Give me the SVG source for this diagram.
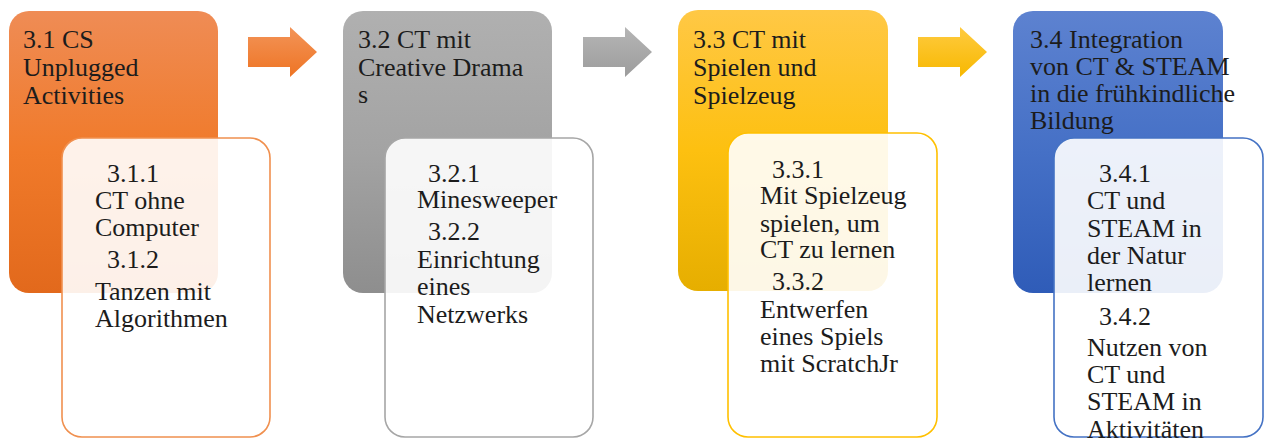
<svg xmlns="http://www.w3.org/2000/svg" width="1266" height="441" viewBox="0 0 1266 441">
<defs>
<linearGradient id="gO" x1="0" y1="0" x2="0" y2="1"><stop offset="0" stop-color="#EF8C55"/><stop offset="0.5" stop-color="#F07A2A"/><stop offset="1" stop-color="#E2691C"/></linearGradient>
<linearGradient id="gG" x1="0" y1="0" x2="0" y2="1"><stop offset="0" stop-color="#B0B0B0"/><stop offset="0.5" stop-color="#A3A3A3"/><stop offset="1" stop-color="#8E8E8E"/></linearGradient>
<linearGradient id="gY" x1="0" y1="0" x2="0" y2="1"><stop offset="0" stop-color="#FFC845"/><stop offset="0.5" stop-color="#FDC010"/><stop offset="1" stop-color="#E6AE00"/></linearGradient>
<linearGradient id="gB" x1="0" y1="0" x2="0" y2="1"><stop offset="0" stop-color="#5D82D0"/><stop offset="0.5" stop-color="#4570C6"/><stop offset="1" stop-color="#2F5CB8"/></linearGradient>
<linearGradient id="aO" x1="0" y1="0" x2="0" y2="1"><stop offset="0" stop-color="#F39458"/><stop offset="1" stop-color="#EE7424"/></linearGradient>
<linearGradient id="aG" x1="0" y1="0" x2="0" y2="1"><stop offset="0" stop-color="#B5B5B5"/><stop offset="1" stop-color="#9C9C9C"/></linearGradient>
<linearGradient id="aY" x1="0" y1="0" x2="0" y2="1"><stop offset="0" stop-color="#FFCB40"/><stop offset="1" stop-color="#F7B800"/></linearGradient>
<path id="arrow" d="M0 10 H42 V0 L69 25 L42 50 V40 H0 Z"/>
</defs>
<style>
text{font-family:"Liberation Serif","Times New Roman",serif;font-size:26px;fill:#1c1c1c}
.inner{fill:#ffffff;fill-opacity:0.9;stroke-width:1.6}
</style>
<rect width="1266" height="441" fill="#ffffff"/>
<g id="connectors">
<use href="#arrow" x="248" y="27" fill="url(#aO)"/>
<use href="#arrow" x="583" y="27" fill="url(#aG)"/>
<use href="#arrow" x="918" y="27" fill="url(#aY)"/>
</g>
<g id="n31">
<rect x="9" y="11" width="209" height="282" rx="20" fill="url(#gO)"/>
<text x="23"><tspan x="23" y="48">3.1 CS</tspan><tspan x="23" y="76">Unplugged</tspan><tspan x="23" y="104">Activities</tspan></text>
</g>
<g id="n31s">
<rect class="inner" x="62" y="138" width="208" height="299" rx="20" stroke="#F0904F"/>
<text><tspan x="107" y="182">3.1.1</tspan><tspan x="95" y="209">CT ohne</tspan><tspan x="95" y="236">Computer</tspan><tspan x="107" y="268">3.1.2</tspan><tspan x="95" y="300">Tanzen mit</tspan><tspan x="95" y="327">Algorithmen</tspan></text>
</g>
<g id="n32">
<rect x="343" y="11" width="209" height="282" rx="20" fill="url(#gG)"/>
<text><tspan x="358" y="48">3.2 CT mit</tspan><tspan x="358" y="76">Creative Drama</tspan><tspan x="358" y="103">s</tspan></text>
</g>
<g id="n32s">
<rect class="inner" x="385" y="138" width="208" height="299" rx="20" stroke="#A6A6A6"/>
<text><tspan x="428" y="182">3.2.1</tspan><tspan x="417" y="208">Minesweeper</tspan><tspan x="428" y="240">3.2.2</tspan><tspan x="417" y="268">Einrichtung</tspan><tspan x="417" y="295">eines</tspan><tspan x="417" y="323">Netzwerks</tspan></text>
</g>
<g id="n33">
<rect x="678" y="10" width="210" height="281" rx="20" fill="url(#gY)"/>
<text><tspan x="693" y="48">3.3 CT mit</tspan><tspan x="693" y="76">Spielen und</tspan><tspan x="693" y="104">Spielzeug</tspan></text>
</g>
<g id="n33s">
<rect class="inner" x="728" y="133" width="209" height="304" rx="20" stroke="#FFC000"/>
<text><tspan x="772" y="178">3.3.1</tspan><tspan x="760" y="204">Mit Spielzeug</tspan><tspan x="760" y="232">spielen, um</tspan><tspan x="760" y="258">CT zu lernen</tspan><tspan x="772" y="290">3.3.2</tspan><tspan x="760" y="318">Entwerfen</tspan><tspan x="760" y="345">eines Spiels</tspan><tspan x="760" y="372">mit ScratchJr</tspan></text>
</g>
<g id="n34">
<rect x="1013" y="11" width="210" height="282" rx="20" fill="url(#gB)"/>
<text><tspan x="1030" y="48">3.4 Integration</tspan><tspan x="1030" y="75">von CT &amp; STEAM</tspan><tspan x="1030" y="102">in die frühkindliche</tspan><tspan x="1030" y="129">Bildung</tspan></text>
</g>
<g id="n34s">
<rect class="inner" x="1054" y="138" width="209" height="299" rx="20" stroke="#4472C4"/>
<text><tspan x="1099" y="182">3.4.1</tspan><tspan x="1087" y="209">CT und</tspan><tspan x="1087" y="237">STEAM in</tspan><tspan x="1087" y="264">der Natur</tspan><tspan x="1087" y="291">lernen</tspan><tspan x="1099" y="325">3.4.2</tspan><tspan x="1087" y="356">Nutzen von</tspan><tspan x="1087" y="383">CT und</tspan><tspan x="1087" y="410">STEAM in</tspan><tspan x="1087" y="438">Aktivitäten</tspan></text>
</g>
</svg>
